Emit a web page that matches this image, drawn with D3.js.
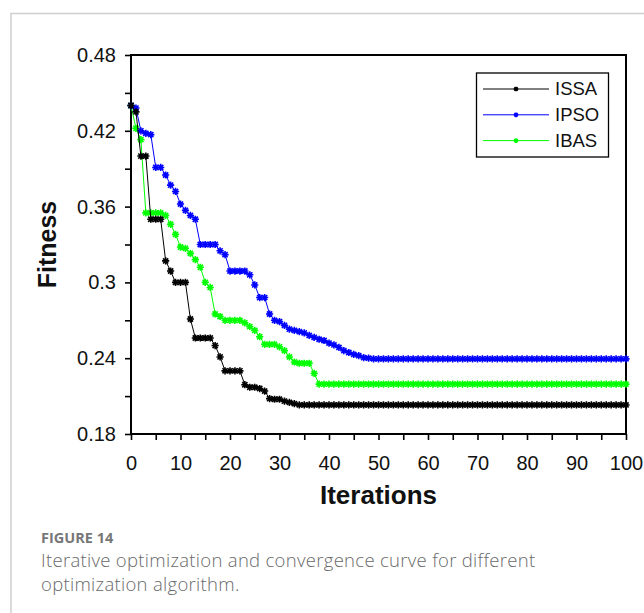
<!DOCTYPE html>
<html>
<head>
<meta charset="utf-8">
<script src="https://cdn.jsdelivr.net/npm/d3@7"></script>
<style>
  body { margin: 0; background: #fff; }
  svg { display: block; }
</style>
</head>
<body>
<div class="chart"></div>
<script>
// Iterations 0..100
const iterations = d3.range(0, 101)

const issa = [0.440, 0.435, 0.400, 0.400, 0.350, 0.350, 0.350, 0.317, 0.309, 0.300,
  0.300, 0.300, 0.271, 0.256, 0.256, 0.256, 0.256, 0.250, 0.241, 0.230,
  0.230, 0.230, 0.230, 0.219, 0.217, 0.217, 0.216, 0.214, 0.208, 0.2075,
  0.2075, 0.206, 0.205, 0.204, 0.203, 0.203, 0.203, 0.203, 0.203, 0.203,
  0.203, 0.203, 0.203, 0.203, 0.203, 0.203, 0.203, 0.203, 0.203, 0.203,
  0.203, 0.203, 0.203, 0.203, 0.203, 0.203, 0.203, 0.203, 0.203, 0.203,
  0.203, 0.203, 0.203, 0.203, 0.203, 0.203, 0.203, 0.203, 0.203, 0.203,
  0.203, 0.203, 0.203, 0.203, 0.203, 0.203, 0.203, 0.203, 0.203, 0.203,
  0.203, 0.203, 0.203, 0.203, 0.203, 0.203, 0.203, 0.203, 0.203, 0.203,
  0.203, 0.203, 0.203, 0.203, 0.203, 0.203, 0.203, 0.203, 0.203, 0.203,
  0.203]

const ipso = [0.440, 0.438, 0.420, 0.418, 0.417, 0.391, 0.391, 0.385, 0.377, 0.372,
  0.362, 0.357, 0.353, 0.350, 0.330, 0.330, 0.330, 0.330, 0.325, 0.322,
  0.309, 0.309, 0.309, 0.309, 0.306, 0.298, 0.288, 0.288, 0.275, 0.270,
  0.269, 0.266, 0.263, 0.262, 0.261, 0.260, 0.258, 0.2565, 0.255, 0.254,
  0.252, 0.2505, 0.2485, 0.246, 0.2445, 0.243, 0.242, 0.2405, 0.240, 0.2395,
  0.2395, 0.2395, 0.2395, 0.2395, 0.2395, 0.2395, 0.2395, 0.2395, 0.2395, 0.2395,
  0.2395, 0.2395, 0.2395, 0.2395, 0.2395, 0.2395, 0.2395, 0.2395, 0.2395, 0.2395,
  0.2395, 0.2395, 0.2395, 0.2395, 0.2395, 0.2395, 0.2395, 0.2395, 0.2395, 0.2395,
  0.2395, 0.2395, 0.2395, 0.2395, 0.2395, 0.2395, 0.2395, 0.2395, 0.2395, 0.2395,
  0.2395, 0.2395, 0.2395, 0.2395, 0.2395, 0.2395, 0.2395, 0.2395, 0.2395, 0.2395,
  0.2395]

const ibas = [0.440, 0.422, 0.413, 0.355, 0.355, 0.355, 0.355, 0.353, 0.346, 0.338,
  0.328, 0.327, 0.323, 0.318, 0.312, 0.300, 0.296, 0.275, 0.273, 0.270,
  0.270, 0.270, 0.270, 0.268, 0.265, 0.262, 0.257, 0.251, 0.251, 0.251,
  0.249, 0.246, 0.241, 0.237, 0.236, 0.236, 0.236, 0.228, 0.2195, 0.2195,
  0.2195, 0.2195, 0.2195, 0.2195, 0.2195, 0.2195, 0.2195, 0.2195, 0.2195, 0.2195,
  0.2195, 0.2195, 0.2195, 0.2195, 0.2195, 0.2195, 0.2195, 0.2195, 0.2195, 0.2195,
  0.2195, 0.2195, 0.2195, 0.2195, 0.2195, 0.2195, 0.2195, 0.2195, 0.2195, 0.2195,
  0.2195, 0.2195, 0.2195, 0.2195, 0.2195, 0.2195, 0.2195, 0.2195, 0.2195, 0.2195,
  0.2195, 0.2195, 0.2195, 0.2195, 0.2195, 0.2195, 0.2195, 0.2195, 0.2195, 0.2195,
  0.2195, 0.2195, 0.2195, 0.2195, 0.2195, 0.2195, 0.2195, 0.2195, 0.2195, 0.2195,
  0.2195]

const seriesNames = ['ISSA', 'IPSO', 'IBAS']
const seriesColors = ['#000000', '#0000ff', '#00ff00']
const xTicks = [0, 10, 20, 30, 40, 50, 60, 70, 80, 90, 100]
const yTicks = [0.18, 0.24, 0.3, 0.36, 0.42, 0.48]
const yTickLabels = ['0.18', '0.24', '0.3', '0.36', '0.42', '0.48']

const series = [issa, ipso, ibas].map((vals, i) => ({
  name: seriesNames[i],
  color: seriesColors[i],
  values: vals.map((v, j) => ({ x: iterations[j], y: v }))
}))

// Set the property of svg
const svgWidth = 644
      svgHeight = 613
const plot = { left: 131, top: 55, right: 626, bottom: 434 }
const svg = d3.select('.chart')
        .append('svg')
        .attr('width', svgWidth)
        .attr('height', svgHeight)

// card frame of the page
svg.append('path')
   .attr('d', `M11,${svgHeight + 2}V13.5H${svgWidth + 2}`)
   .attr('fill', 'none')
   .attr('stroke', '#cfcfcf')
   .attr('stroke-width', 1.5)

const xScale = d3.scaleLinear()
                 .domain([0, 100])
                 .range([plot.left, plot.right])
const yScale = d3.scaleLinear()
                 .domain([0.18, 0.48])
                 .range([plot.bottom, plot.top])

// minor ticks
svg.append('g')
   .attr('transform', `translate(0, ${plot.bottom})`)
   .call(d3.axisBottom(xScale).tickValues(d3.range(5, 100, 10)).tickSize(6).tickFormat(''))
   .call(g => g.select('.domain').remove())
   .call(g => g.selectAll('line').attr('stroke-width', 1.6))
svg.append('g')
   .attr('transform', `translate(${plot.left}, 0)`)
   .call(d3.axisLeft(yScale).tickValues([0.21, 0.27, 0.33, 0.39, 0.45]).tickSize(6).tickFormat(''))
   .call(g => g.select('.domain').remove())
   .call(g => g.selectAll('line').attr('stroke-width', 1.6))

// Set up x-axis
svg.append('g')
   .attr('transform', `translate(0, ${plot.bottom})`)
   .call(d3.axisBottom(xScale).tickValues(xTicks).tickSize(6).tickSizeOuter(0).tickPadding(16))
   .call(g => g.select('.domain').remove())
   .call(g => g.selectAll('line').attr('stroke-width', 1.6))
   .call(g => g.selectAll('text')
     .attr('font-family', 'Liberation Sans, Arial, sans-serif')
     .attr('font-size', 20)
     .attr('fill', '#111'))

// Set up y-axis
svg.append('g')
   .attr('transform', `translate(${plot.left}, 0)`)
   .call(d3.axisLeft(yScale).tickValues(yTicks).tickSize(6).tickSizeOuter(0).tickPadding(9)
     .tickFormat((d, i) => yTickLabels[i]))
   .call(g => g.select('.domain').remove())
   .call(g => g.selectAll('line').attr('stroke-width', 1.6))
   .call(g => g.selectAll('text')
     .attr('font-family', 'Liberation Sans, Arial, sans-serif')
     .attr('font-size', 20)
     .attr('fill', '#111'))

// axis box
svg.append('rect')
   .attr('x', plot.left)
   .attr('y', plot.top)
   .attr('width', plot.right - plot.left)
   .attr('height', plot.bottom - plot.top)
   .attr('fill', 'none')
   .attr('stroke', '#000')
   .attr('stroke-width', 2)

// axis titles
svg.append('text')
   .attr('x', (plot.left + plot.right) / 2)
   .attr('y', 504)
   .attr('text-anchor', 'middle')
   .attr('font-family', 'Liberation Sans, Arial, sans-serif')
   .attr('font-weight', 'bold')
   .attr('font-size', 26)
   .attr('fill', '#111')
   .text('Iterations')

svg.append('text')
   .attr('transform', `translate(56, ${(plot.top + plot.bottom) / 2}) rotate(-90)`)
   .attr('text-anchor', 'middle')
   .attr('font-family', 'Liberation Sans, Arial, sans-serif')
   .attr('font-weight', 'bold')
   .attr('font-size', 25)
   .attr('fill', '#111')
   .text('Fitness')

// asterisk marker like matlab '*'
const star = {
  draw(ctx, size) {
    const r = Math.sqrt(size) / 2
    const d = r * 0.72
    ctx.moveTo(-r, 0); ctx.lineTo(r, 0)
    ctx.moveTo(0, -r); ctx.lineTo(0, r)
    ctx.moveTo(-d, -d); ctx.lineTo(d, d)
    ctx.moveTo(-d, d); ctx.lineTo(d, -d)
  }
}
const marker = d3.symbol().type(star).size(52)

const line = d3.line()
               .x(d => xScale(d.x))
               .y(d => yScale(d.y))

const lines = svg.append('g')
const seriesG = lines.selectAll('g')
                     .data(series.slice().reverse())
                     .enter()
                     .append('g')
seriesG.append('path')
       .attr('d', d => line(d.values))
       .attr('fill', 'none')
       .attr('stroke', d => d.color)
       .attr('stroke-width', 1)
seriesG.selectAll('path.pt')
       .data(d => d.values.map(v => ({ ...v, color: d.color })))
       .enter()
       .append('path')
       .attr('class', 'pt')
       .attr('transform', d => `translate(${xScale(d.x)}, ${yScale(d.y)})`)
       .attr('d', marker)
       .attr('fill', 'none')
       .attr('stroke', d => d.color)
       .attr('stroke-width', 1.6)

// legend
const legend = svg.append('g')
legend.append('rect')
      .attr('x', 476.5)
      .attr('y', 73)
      .attr('width', 132)
      .attr('height', 84)
      .attr('fill', '#fff')
      .attr('stroke', '#000')
      .attr('stroke-width', 1.3)
const legendItems = legend.selectAll('.legend-item')
                          .data(series)
                          .enter()
                          .append('g')
                          .attr('class', 'legend-item')
                          .attr('transform', (d, i) => `translate(0, ${89 + i * 25.8})`)
legendItems.append('line')
           .attr('x1', 483)
           .attr('x2', 549)
           .attr('stroke', d => d.color)
           .attr('stroke-width', 1)
legendItems.append('path')
           .attr('transform', 'translate(516, 0)')
           .attr('d', d3.symbol().type(star).size(22))
           .attr('fill', 'none')
           .attr('stroke', d => d.color)
           .attr('stroke-width', 1.5)
legendItems.append('text')
           .attr('x', 555)
           .attr('dy', '0.35em')
           .attr('font-family', 'Liberation Sans, Arial, sans-serif')
           .attr('font-size', 18.5)
           .attr('fill', '#111')
           .text(d => d.name)

// caption
svg.append('text')
   .attr('x', 41)
   .attr('y', 543)
   .attr('font-family', 'Open Sans, sans-serif')
   .attr('font-weight', 'bold')
   .attr('font-size', 14.5)
   .attr('fill', '#777')
   .text('FIGURE 14')
const caption = ['Iterative optimization and convergence curve for different',
                 'optimization algorithm.']
svg.append('g')
   .selectAll('text')
   .data(caption)
   .enter()
   .append('text')
   .attr('x', 41)
   .attr('y', (d, i) => 567 + i * 24)
   .attr('font-family', 'Open Sans, sans-serif')
   .attr('font-weight', 300)
   .attr('font-size', 18.5)
   .attr('letter-spacing', 0.3)
   .attr('fill', '#6a6a6a')
   .text(d => d)
</script>
</body>
</html>
